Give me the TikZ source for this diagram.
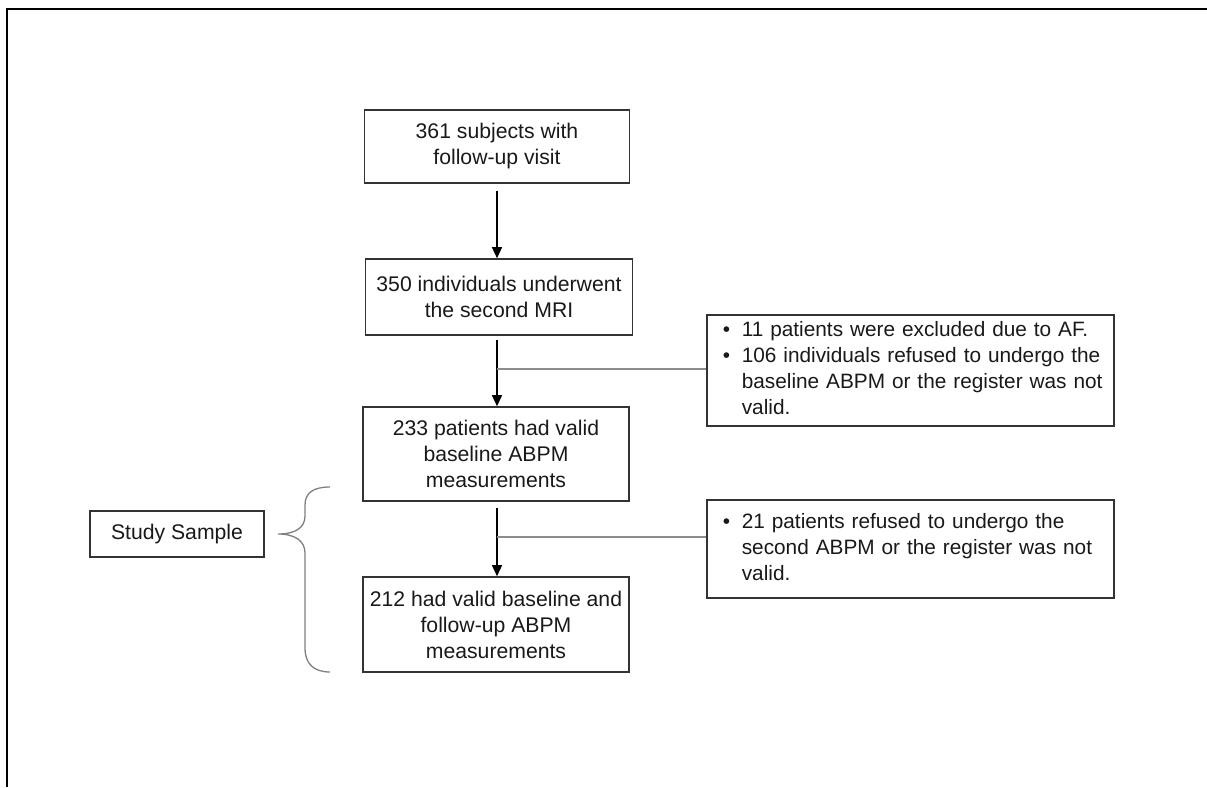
\documentclass[tikz,border=0pt]{standalone}
\usepackage{fontspec}
\setmainfont{Liberation Sans}
\usepackage{tikz}
\usetikzlibrary{arrows.meta}

\begin{document}
\begin{tikzpicture}[x=1pt,y=-1pt,
  box/.style={draw=black!80,line width=1.6pt,text=black!90,align=center,inner sep=0pt,
    font=\fontsize{21.2}{26}\selectfont},
  sidebox/.style={draw=black!80,line width=1.6pt,text=black!90,anchor=west,
    inner xsep=16pt,inner ysep=0pt,text width=375pt,font=\fontsize{20.8}{26}\selectfont},
  flow/.style={line width=1.4pt,-{Triangle[length=11pt,width=10pt]}},
  branch/.style={line width=1.3pt,draw=black!45},
  brace/.style={line width=1.3pt,draw=black!50}]
\useasboundingbox (0,0) rectangle (1207,787);
\draw[line width=2.6pt] (7,787) -- (7,9) -- (1207,9);
\node[box,minimum width=265pt,minimum height=73pt] (visit) at (497,146.5) {361 subjects with\\follow-up visit};
\node[box,minimum width=267pt,minimum height=76pt] (mri) at (499,297) {350 individuals underwent\\the second MRI};
\node[box,minimum width=266pt,minimum height=94pt] (base) at (496,454) {233 patients had valid\\baseline ABPM\\measurements};
\node[box,minimum width=266pt,minimum height=95pt] (both) at (496,624.5) {212 had valid baseline and\\follow-up ABPM\\measurements};
\node[sidebox,minimum height=111pt] (excl1) at (706,370.5)
  {\begin{tabular}{@{}p{19pt}@{}l@{}}
   \textbullet & 11 patients were excluded due to AF.\\
   \textbullet & 106 individuals refused to undergo the\\
   \multicolumn{2}{@{\hspace{19pt}}l@{}}{baseline ABPM or the register was not}\\
   \multicolumn{2}{@{\hspace{19pt}}l@{}}{valid.}
   \end{tabular}};
\node[sidebox,minimum height=98pt] (excl2) at (706,549)
  {\begin{tabular}{@{}p{19pt}@{}l@{}}
   \textbullet & 21 patients refused to undergo the\\
   & second ABPM or the register was not\\
   & valid.
   \end{tabular}};
\node[box,minimum width=174pt,minimum height=46pt] (sample) at (177,534) {Study Sample};
\coordinate (j1) at (497,369);
\coordinate (j2) at (497,537);
\draw[flow] ([yshift=-7pt]visit.south -| j1) -- (mri.north -| j1);
\draw[flow] ([yshift=-4pt]mri.south -| j1) -- (base.north -| j1);
\draw[flow] ([yshift=-6pt]base.south -| j2) -- (both.north -| j2);
\draw[branch] (j1) -- (j1 -| excl1.west);
\draw[branch] (j2) -- (j2 -| excl2.west);
\draw[brace] (330,487) .. controls (313,487) and (305,493) .. (305,505) -- (305,516)
  .. controls (305,528) and (295,534) .. (278,534)
  .. controls (295,534) and (305,541) .. (305,553) -- (305,648)
  .. controls (305,664) and (314,672) .. (330,672);
\end{tikzpicture}
\end{document}
